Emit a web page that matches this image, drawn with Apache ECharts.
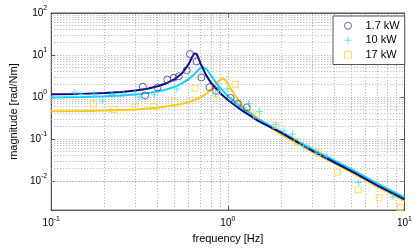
<!DOCTYPE html>
<html><head><meta charset="utf-8">
<script src="https://cdn.jsdelivr.net/npm/echarts@6/dist/echarts.min.js"></script>
<style>html,body{margin:0;padding:0;background:#fff}#c{width:415px;height:249px}</style>
</head><body><div id="c"></div>
<script>
// ---- data ----
const seriesNames = ['1.7 kW', '10 kW', '17 kW'];
// fitted-curve samples: frequency [Hz] and magnitude [rad/Nm]
const navyFreq = [0.1,0.15,0.2,0.25,0.3,0.35,0.4,0.45,0.5,0.55,0.6,0.63,0.645,0.655,0.665,0.68,0.7,0.75,0.8,0.9,1.0,1.2,1.5,2,3,5,7,10];
const navyMag  = [1.15,1.18,1.24,1.31,1.42,1.57,1.79,2.12,2.64,3.65,6.05,9.2,10.9,11.2,10.6,8.6,6.3,3.4,2.2,1.25,0.84,0.475,0.26,0.14,0.052,0.017,0.0078,0.0036];
const cyanFreq = [0.1,0.15,0.2,0.25,0.3,0.35,0.4,0.45,0.5,0.55,0.6,0.65,0.68,0.7,0.73,0.76,0.8,0.85,0.9,1.0,1.2,1.5,2,3,5,7,10];
const cyanMag  = [0.97,0.99,1.03,1.08,1.14,1.23,1.34,1.51,1.74,2.09,2.65,3.58,4.36,4.85,5.1,4.5,3.32,2.28,1.67,1.04,0.55,0.293,0.148,0.057,0.019,0.0087,0.0040];
const goldFreq = [0.1,0.15,0.2,0.3,0.4,0.5,0.6,0.7,0.75,0.8,0.85,0.9,0.94,0.97,1.0,1.05,1.1,1.2,1.5,2,3,5,7,10];
const goldMag  = [0.455,0.462,0.471,0.501,0.549,0.628,0.747,0.976,1.17,1.46,1.92,2.53,2.75,2.49,2.06,1.46,1.08,0.62,0.29,0.127,0.049,0.016,0.0073,0.0033];
// measured points
const navyPtsFreq = [0.33,0.34,0.40,0.454,0.494,0.527,0.585,0.61,0.665,0.708,0.787,0.857,1.035,1.14,1.28];
const navyPtsMag  = [1.75,1.08,1.68,2.6,2.85,3.1,4.3,10.5,7.0,2.9,1.7,1.4,0.94,0.69,0.56];
const cyanPtsFreq = [0.136,0.148,0.175,0.195,0.221,0.256,0.298,0.317,0.384,0.514,0.853,0.91,0.99,1.31,1.51,1.87,2.08,2.32,2.68,2.84,3.18,3.61,5.51,8.6];
const cyanPtsMag  = [1.29,1.14,1.16,0.80,1.14,1.16,1.18,0.99,1.12,1.54,1.18,1.43,1.54,0.69,0.45,0.22,0.155,0.13,0.07,0.064,0.045,0.0375,0.0091,0.0041];
const goldPtsFreq = [0.173,0.226,0.298,0.38,0.499,0.652,0.85,1.10,1.45,1.87,2.47,3.24,4.18,5.46,7.19,9.46];
const goldPtsMag  = [0.69,0.505,0.58,0.58,0.76,1.62,1.18,2.0,0.37,0.21,0.086,0.047,0.016,0.0061,0.0039,0.0023];
// axis ranges / ticks
const xMin = 0.1, xMax = 10;
const yMin = 0.002, yMax = 100;
const minorMultipliers = [2,3,4,5,6,7,8,9];
const xDecades = [0.1, 1];
const yDecades = [0.001, 0.01, 0.1, 1, 10];

// ---- build ----
const zip = (a, b) => a.map((v, i) => [v, b[i]]);
const NAVY = '#0a0a85', CYAN = '#14d2f5', GOLD = '#ffc814';
const MK_NAVY = '#3a3aa0', MK_CYAN = '#3cdcff', MK_GOLD = '#ffd23c';
const FONT = 'Liberation Sans, Arial, Helvetica, sans-serif';

const xMinor = [];
xDecades.forEach(d => minorMultipliers.forEach(k => xMinor.push(+(k * d).toPrecision(3))));
const yMinor = [];
yDecades.forEach(d => minorMultipliers.forEach(k => { const v = +(k * d).toPrecision(3); if (v > yMin * 1.001 && v < yMax) yMinor.push(v); }));

function powLabel(v) {
  const l = Math.log10(v), e = Math.round(l);
  if (Math.abs(l - e) > 1e-6) return '';
  return '{b|10}{s|' + e + '}';
}
const rich = {
  b: {fontSize: 10, lineHeight: 16, fontFamily: FONT, color: '#000'},
  s: {fontSize: 7, lineHeight: 9, verticalAlign: 'top', fontFamily: FONT, color: '#000'}
};
const gridStyle = {color: '#b0b0b0', type: [1, 2], width: 1};
const axisLineStyle = {color: '#555', width: 1};
const PLUS = 'path://M0,5L10,5M5,0L5,10';
const hollow = c => ({color: 'rgba(0,0,0,0)', borderColor: c, borderWidth: 1});

const chart = echarts.init(document.getElementById('c'), null, {renderer: 'canvas'});
chart.setOption({
  animation: false,
  backgroundColor: '#fff',
  grid: {left: 44, right: 8, top: 13, bottom: 32, show: true, borderColor: '#555', borderWidth: 1, backgroundColor: '#fff'},
  legend: {
    data: [
      {name: seriesNames[0], icon: 'circle', itemStyle: hollow(MK_NAVY)},
      {name: seriesNames[1], icon: PLUS, itemStyle: hollow(MK_CYAN)},
      {name: seriesNames[2], icon: 'rect', itemStyle: hollow(MK_GOLD)}
    ],
    orient: 'vertical', left: 333, top: 16, z: 10,
    backgroundColor: '#fff', borderColor: '#555', borderWidth: 1, borderRadius: 0,
    padding: [3, 5, 3, 11], itemWidth: 7, itemHeight: 7, itemGap: 1,
    textStyle: {fontSize: 11, fontFamily: FONT, color: '#000', lineHeight: 13.5, padding: [0, 0, 0, 9]}
  },
  xAxis: [{
    type: 'log', logBase: 10, min: xMin, max: xMax, position: 'bottom',
    name: 'frequency [Hz]', nameLocation: 'middle', nameGap: 18,
    nameTextStyle: {fontSize: 11, fontFamily: FONT, color: '#000', verticalAlign: 'top'},
    axisLine: {show: true, lineStyle: axisLineStyle},
    axisTick: {show: true, inside: true, length: 4, lineStyle: axisLineStyle},
    axisLabel: {formatter: powLabel, rich: rich, margin: 5, showMinLabel: true, showMaxLabel: true},
    splitLine: {show: true, lineStyle: gridStyle}
  }, {
    type: 'log', logBase: 10, min: xMin, max: xMax, position: 'top',
    axisLine: {show: true, lineStyle: axisLineStyle},
    axisTick: {show: true, inside: true, length: 4, lineStyle: axisLineStyle},
    axisLabel: {show: false}, splitLine: {show: false}
  }],
  yAxis: [{
    type: 'log', logBase: 10, min: yMin, max: yMax, position: 'left',
    name: 'magnitude [rad/Nm]', nameLocation: 'middle', nameGap: 27,
    nameTextStyle: {fontSize: 11, fontFamily: FONT, color: '#000'},
    axisLine: {show: true, lineStyle: axisLineStyle},
    axisTick: {show: true, inside: true, length: 4, lineStyle: axisLineStyle},
    axisLabel: {formatter: powLabel, rich: rich, margin: 4, showMinLabel: true, showMaxLabel: true},
    splitLine: {show: true, lineStyle: gridStyle}
  }, {
    type: 'log', logBase: 10, min: yMin, max: yMax, position: 'right',
    axisLine: {show: true, lineStyle: axisLineStyle},
    axisTick: {show: true, inside: true, length: 4, lineStyle: axisLineStyle},
    axisLabel: {show: false}, splitLine: {show: false}
  }],
  series: [
    {
      name: 'minor-grid', type: 'line', data: [[1, 1]], symbol: 'none', silent: true, z: 1,
      lineStyle: {opacity: 0},
      markLine: {
        silent: true, symbol: ['none', 'none'], label: {show: false}, z: 1, animation: false,
        lineStyle: gridStyle, emphasis: {disabled: true},
        data: xMinor.map(v => ({xAxis: v})).concat(yMinor.map(v => ({yAxis: v})))
      }
    },
    {name: 'fit17', type: 'line', data: zip(goldFreq, goldMag), symbol: 'none', z: 3,
     lineStyle: {color: GOLD, width: 2}, itemStyle: {color: GOLD}},
    {name: 'fit10', type: 'line', data: zip(cyanFreq, cyanMag), symbol: 'none', z: 3,
     lineStyle: {color: CYAN, width: 2}, itemStyle: {color: CYAN}},
    {name: 'fit1.7', type: 'line', data: zip(navyFreq, navyMag), symbol: 'none', z: 3,
     lineStyle: {color: NAVY, width: 2}, itemStyle: {color: NAVY}},
    {name: seriesNames[0], type: 'scatter', data: zip(navyPtsFreq, navyPtsMag), z: 4,
     symbol: 'circle', symbolSize: 7, itemStyle: hollow(MK_NAVY)},
    {name: seriesNames[1], type: 'scatter', data: zip(cyanPtsFreq, cyanPtsMag), z: 4,
     symbol: PLUS, symbolSize: 7, itemStyle: hollow(MK_CYAN)},
    {name: seriesNames[2], type: 'scatter', data: zip(goldPtsFreq, goldPtsMag), z: 4,
     symbol: 'rect', symbolSize: 6, itemStyle: hollow(MK_GOLD)}
  ]
});
</script>
</body></html>
